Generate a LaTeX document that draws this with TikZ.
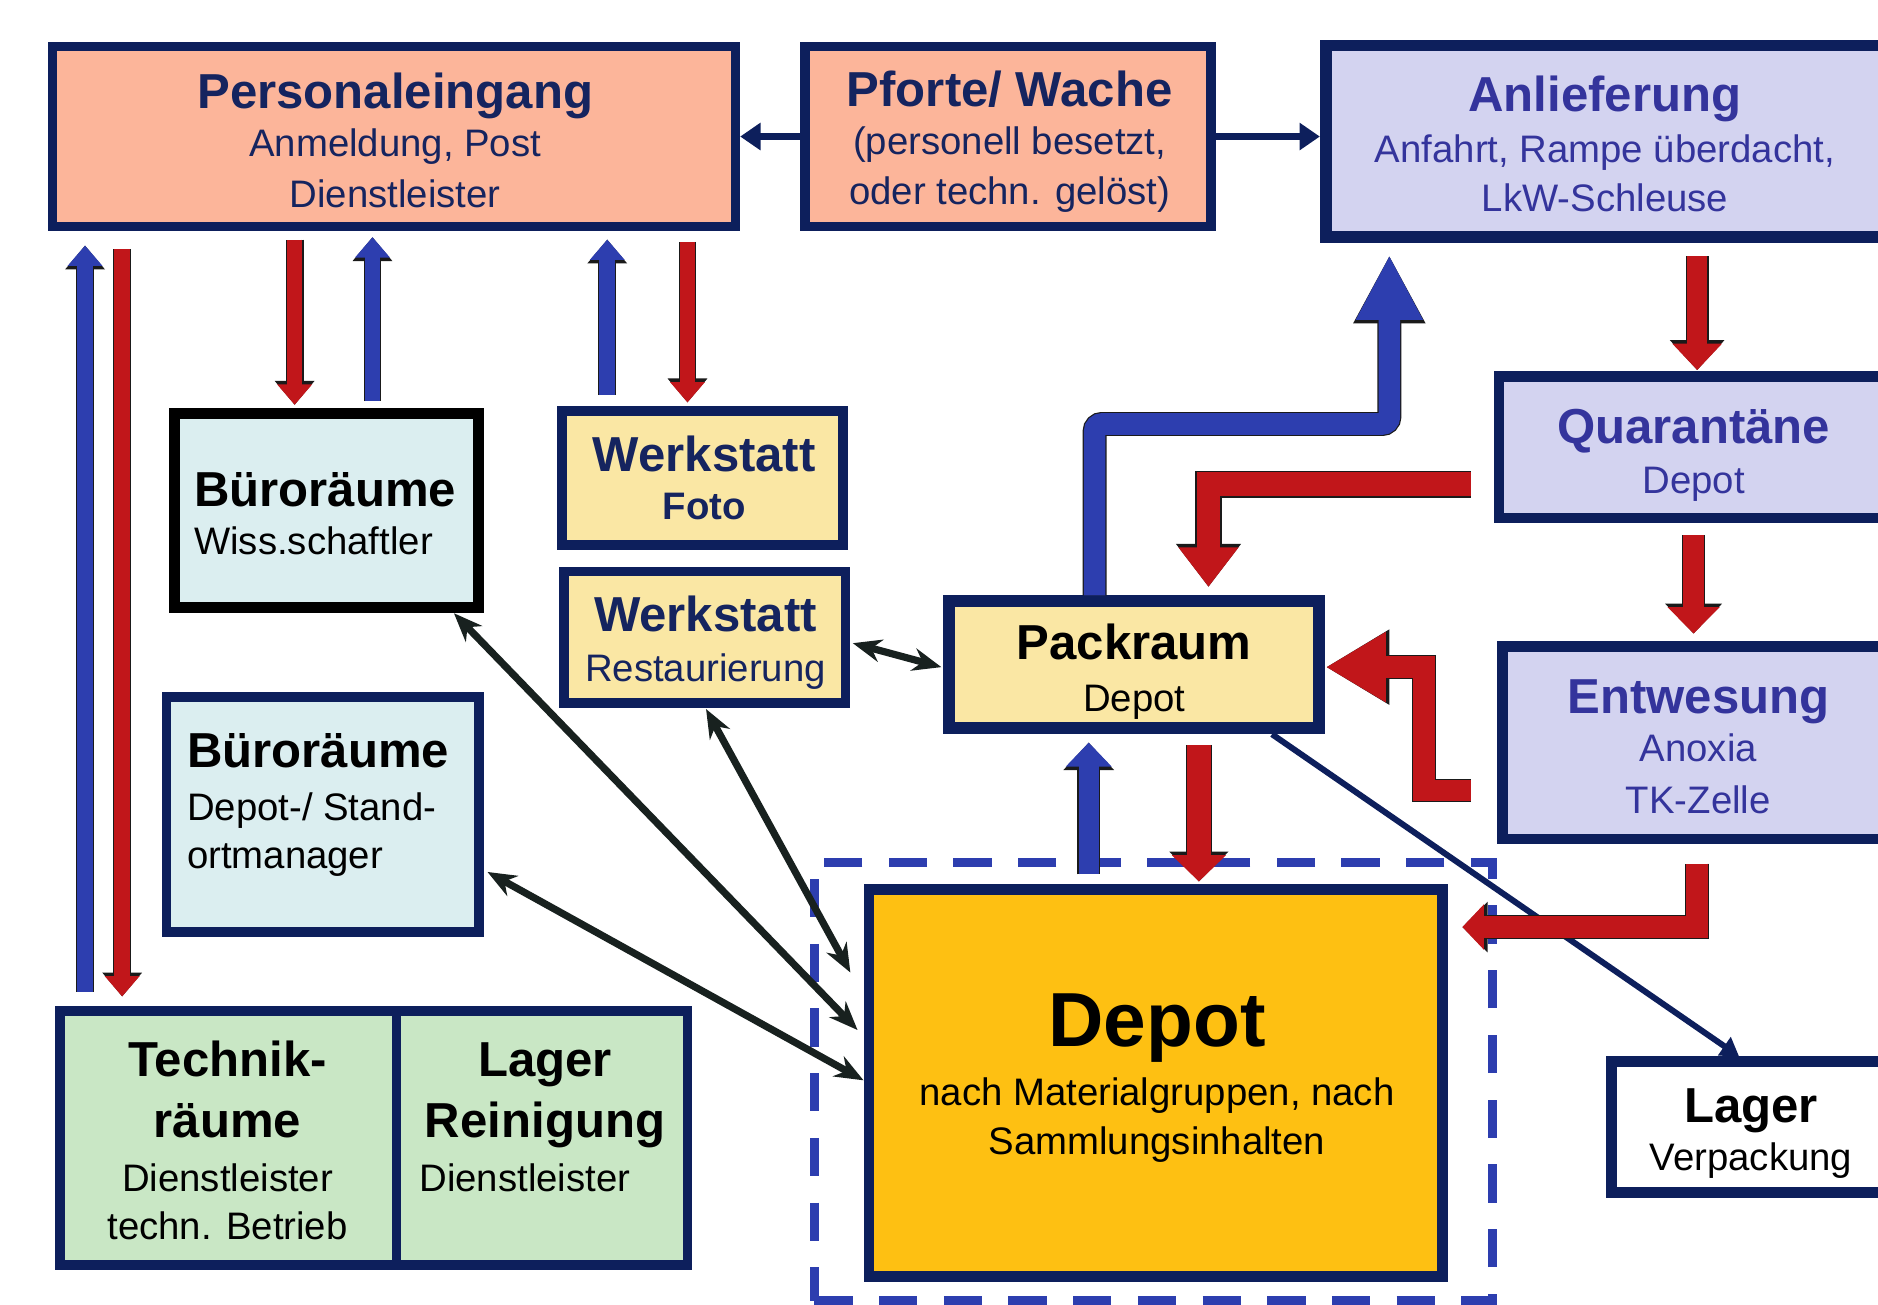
\documentclass[tikz,border=0pt]{standalone}
\usepackage{fontspec}
\setmainfont{Liberation Sans}
\usetikzlibrary{arrows.meta,calc}
\definecolor{navy}{HTML}{0D1F5C}
\definecolor{navytxt}{HTML}{15245F}
\definecolor{indigo}{HTML}{34349C}
\definecolor{salmon}{HTML}{FCB59A}
\definecolor{lav}{HTML}{D3D3F0}
\definecolor{cyanl}{HTML}{DBEEF0}
\definecolor{yell}{HTML}{FAE7A4}
\definecolor{greenl}{HTML}{C9E7C5}
\definecolor{orng}{HTML}{FEC012}
\definecolor{arrblue}{HTML}{2D3EAF}
\definecolor{arrred}{HTML}{C1161A}
\definecolor{blk}{HTML}{18211F}
\definecolor{outl}{HTML}{1A1A1A}
\newcommand{\blkarr}[6][]{%
  \pgfmathsetmacro\blkA{#3+2}\pgfmathsetmacro\blkB{#4+4}\pgfmathsetmacro\blkC{#5+3}%
  \draw[#1, draw=outl, line width=\blkA pt, -{Triangle[width=\blkB pt,length=\blkC pt]}] #6;
  \draw[#1, draw=#2, line width=#3pt, -{Triangle[width=#4pt,length=#5pt]}] #6;}
\tikzset{
  box8/.style={draw=navy, line width=8pt, outer sep=4pt, inner sep=0pt},
  box9/.style={draw=navy, line width=9pt, outer sep=4.5pt, inner sep=0pt},
  box10/.style={draw=navy, line width=10pt, outer sep=5pt, inner sep=0pt},
  ttl/.style={font=\fontsize{41}{49}\selectfont\bfseries, inner sep=0pt, anchor=base},
  sub/.style={font=\fontsize{32}{38}\selectfont, inner sep=0pt, anchor=base},
  dbl/.style={draw=blk, line width=6pt, {Stealth[length=24pt,width=19pt]}-{Stealth[length=24pt,width=19pt]}},
  navyarr/.style={draw=navy, line width=6pt, -{Triangle[width=22pt,length=17pt]}},
  navyarrb/.style={draw=navy, line width=5pt, -{Triangle[width=18pt,length=15pt]}}
}
\begin{document}
\begin{tikzpicture}[x=1pt,y=-1pt]
\useasboundingbox (0,0) rectangle (1568,1089);
\begin{scope}
\clip (0,0) rectangle (1568,1089);
% dashed zone
\node[draw=arrblue, line width=8pt, dash pattern=on 32pt off 22pt, minimum width=566pt, minimum height=366pt, inner sep=0pt] (zone) at (963,903) {};
% boxes
\node[box8, fill=salmon, minimum width=570pt, minimum height=150pt] (pe) at (329,114) {};
\node[box8, fill=salmon, minimum width=339pt, minimum height=150pt] (pf) at (841.5,114) {};
\node[box10, fill=lav, minimum width=528pt, minimum height=160pt] (an) at (1371,118) {};
\node[box9, fill=lav, minimum width=384pt, minimum height=118pt] (qu) at (1443.5,373.5) {};
\node[box9, fill=lav, minimum width=381pt, minimum height=161pt] (en) at (1445,620) {};
\node[box9, fill=white, minimum width=290pt, minimum height=109pt] (lv) at (1490.5,941) {};
\node[box9, draw=black, fill=cyanl, minimum width=254pt, minimum height=162pt] (bw) at (272.5,426.5) {};
\node[box8, fill=yell, minimum width=235pt, minimum height=112pt] (wf) at (586.5,399) {};
\node[box8, fill=yell, minimum width=235pt, minimum height=110pt] (wr) at (588.5,532) {};
\node[box8, fill=cyanl, minimum width=261pt, minimum height=196pt] (bd) at (269.5,680) {};
\node[box8, fill=greenl, minimum width=281pt, minimum height=212pt] (tr) at (190.5,950) {};
\node[box8, fill=greenl, minimum width=243pt, minimum height=212pt] (lr) at (452.5,950) {};
\node[box10, fill=yell, minimum width=309pt, minimum height=106pt] (pk) at (946.5,555) {};
\node[box9, fill=orng, minimum width=479pt, minimum height=323pt] (dp) at (965,904) {};
% texts
\node[ttl, text=navytxt] (pe1) at (330,91) {Personaleingang};
\node[sub, text=navytxt] (pe2) at (330,131) {Anmeldung, Post};
\node[sub, text=navytxt] (pe3) at (330,173) {Dienstleister};
\node[ttl, text=navytxt] (pf1) at (843,89) {Pforte/ Wache};
\node[sub, text=navytxt] (pf2) at (843,129) {(personell besetzt,};
\node[sub, text=navytxt] (pf3) at (843,171) {oder techn. gelöst)};
\node[ttl, text=indigo] (an1) at (1340,93) {Anlieferung};
\node[sub, text=indigo] (an2) at (1340,136) {Anfahrt, Rampe überdacht,};
\node[sub, text=indigo] (an3) at (1340,177) {LkW-Schleuse};
\node[ttl, anchor=base west] (bw1) at (162,423) {Büroräume};
\node[sub, anchor=base west] (bw2) at (162,463) {Wiss.schaftler};
\node[ttl, text=navytxt] (wf1) at (588,394) {Werkstatt};
\node[sub, text=navytxt, font=\fontsize{32}{38}\selectfont\bfseries] (wf2) at (588,434) {Foto};
\node[ttl, text=navytxt] (wr1) at (589,527) {Werkstatt};
\node[sub, text=navytxt] (wr2) at (589,569) {Restaurierung};
\node[ttl, anchor=base west] (bd1) at (156,641) {Büroräume};
\node[sub, anchor=base west] (bd2) at (156,685) {Depot-/ Stand-};
\node[sub, anchor=base west] (bd3) at (156,725) {ortmanager};
\node[ttl] (tr1) at (190,899) {Technik-};
\node[ttl] (tr2) at (190,950) {räume};
\node[sub] (tr3) at (190,995) {Dienstleister};
\node[sub] (tr4) at (190,1035) {techn. Betrieb};
\node[ttl] (lr1) at (455,899) {Lager};
\node[ttl] (lr2) at (455,950) {Reinigung};
\node[sub, anchor=base west] (lr3) at (350,995) {Dienstleister};
\node[ttl] (pk1) at (947,551) {Packraum};
\node[sub] (pk2) at (947,594) {Depot};
\node[ttl, text=indigo] (qu1) at (1414,370) {Quarantäne};
\node[sub, text=indigo] (qu2) at (1414,412) {Depot};
\node[ttl, text=indigo] (en1) at (1418,596) {Entwesung};
\node[sub, text=indigo] (en2) at (1418,636) {Anoxia};
\node[sub, text=indigo] (en3) at (1418,679) {TK-Zelle};
\node[ttl, font=\fontsize{64}{70}\selectfont\bfseries] (dp1) at (966,874) {Depot};
\node[sub] (dp2) at (966,923) {nach Materialgruppen, nach};
\node[sub] (dp3) at (966,964) {Sammlungsinhalten};
\node[ttl] (lv1) at (1462,937) {Lager};
\node[sub] (lv2) at (1462,977) {Verpackung};
% navy connectors
\draw[navyarr] (pf.west) -- (pe.east);
\draw[navyarr] (pf.east) -- (pf.east -| an.west);
\draw[navyarrb] ($(pk.south east)+(-44,0)$) -- ($(lv.north west)+(111,0)$);
% black double arrows
\draw[dbl] ($(wr.east)+(2,5)$) -- ($(pk.west)+(-1,2)$);
\draw[dbl] ($(wr.south)+(1,1)$) -- ($(dp.west)+(-11,-92)$);
\draw[dbl] ($(bw.south east)+(-25,0)$) -- ($(dp.west)+(-5,-44)$);
\draw[dbl] ($(bd.east)+(3,48)$) -- ($(dp.west)+(0,-2)$);
% block arrows
\blkarr{arrblue}{13}{28}{17}{($(tr.north west)+(25,-12)$) -- ($(pe.south west)+(31,12)$)}
\blkarr{arrred}{13}{28}{17}{($(pe.south west)+(62,15)$) -- ($(tr.north west)+(56,-8)$)}
\blkarr{arrred}{13}{28}{17}{($(pe.south west)+(206,7)$) -- ($(bw.north west)+(105,-3)$)}
\blkarr{arrblue}{13}{28}{17}{($(bw.north west)+(170,-6)$) -- ($(pe.south west)+(271,5)$)}
\blkarr{arrblue}{13}{28}{17}{($(wf.north west)+(42,-9)$) -- ($(pe.south west)+(467,7)$)}
\blkarr{arrred}{13}{28}{17}{($(pe.south west)+(534,9)$) -- ($(wf.north west)+(109,-3)$)}
\blkarr{arrred}{17}{40}{22}{($(an.south west)+(315,11)$) -- ($(qu.north west)+(170,-1)$)}
\blkarr{arrred}{17}{42}{22}{($(qu.south west)+(167,10)$) -- ($(en.north west)+(164,-6)$)}
\blkarr{arrblue}{17}{37}{20}{($(dp.north west)+(188,-8)$) -- ($(pk.south west)+(122,7)$)}
\blkarr{arrred}{20}{44}{22}{($(pk.south west)+(214,9)$) -- ($(dp.north west)+(280,-2)$)}
\blkarr[rounded corners=6pt]{arrblue}{18}{52}{54}{($(pk.north west)+(127,0)$) |- ($(an.south west)+(58,151)$) -- ($(an.south west)+(58,10)$)}
\blkarr{arrred}{20}{48}{33}{($(qu.west)+(-19,31)$) -| ($(pk.north west)+(222,-7)$)}
\blkarr{arrred}{18}{55}{50}{($(en.west)+(-22,40)$) -| ($(pk.east)+(83,2)$) -- ($(pk.east)+(1,2)$)}
\blkarr{arrred}{18}{37}{18}{($(en.south west)+(167,16)$) |- ($(dp.east)+(12,-130)$)}
\end{scope}
\end{tikzpicture}
\end{document}
